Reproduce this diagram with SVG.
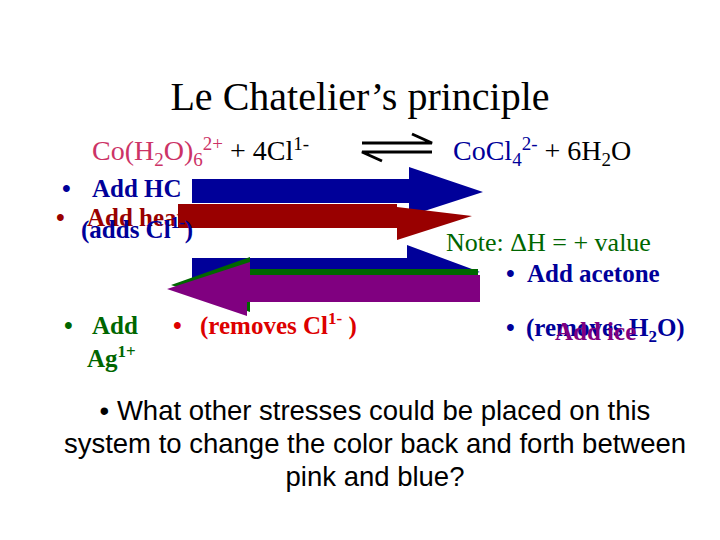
<svg xmlns="http://www.w3.org/2000/svg" width="720" height="540" viewBox="0 0 720 540">
<style>
.t{font-family:"Liberation Serif",serif}
.b{font-family:"Liberation Serif",serif;font-weight:bold;font-size:25px}
.s{font-family:"Liberation Sans",sans-serif;font-size:27.5px;text-anchor:middle}
</style>
<rect width="720" height="540" fill="#fff"/>
<g id="title"><text class="t" x="360" y="110" font-size="40" text-anchor="middle">Le Chatelier’s principle</text></g>
<g id="equation" class="t" font-size="28">
<text x="92" y="160"><tspan fill="#cc3366">Co(H<tspan font-size="19" dy="6">2</tspan><tspan dy="-6">O)</tspan><tspan font-size="19" dy="6">6</tspan><tspan font-size="19" dy="-16">2+</tspan></tspan><tspan dy="10"> + 4Cl</tspan><tspan font-size="19" dy="-10">1-</tspan></text>
<text x="453" y="160"><tspan fill="#000099">CoCl<tspan font-size="19" dy="6">4</tspan><tspan font-size="19" dy="-16">2-</tspan></tspan><tspan dy="10"> + 6H</tspan><tspan font-size="19" dy="6">2</tspan><tspan dy="-6">O</tspan></text>
<path d="M362 143 H432 L412 134 M432 152 H362 L382 161" fill="none" stroke="#000" stroke-width="3"/>
</g>
<g id="left-texts">
<text class="b" x="62" y="197" fill="#000099">•</text><text class="b" x="92" y="197" fill="#000099">Add HC</text>
<text class="b" x="56" y="226" fill="#990000">•</text><text class="b" x="87" y="226" fill="#990000">Add heat</text>
</g>
<g id="arrows">
<path d="M192 179 H409 V167 L483 192 L409 216 V203 H192 Z" fill="#000099"/>
<path d="M178 204 H397 V207 L472 216 L397 240 V228 H178 Z" fill="#990000"/>
<path d="M192 258 H407 V245 L480 272 L407 290 V290 H192 Z" fill="#000099"/>
<path d="M478 269 H250 V257 L171 285 L250 312 V302 H478 Z" fill="#006600"/>
<path d="M480 275 H250 V262 L167 289 L247 316 V302 H480 Z" fill="#800080"/>
</g>
<g id="adds"><text class="b" x="81" y="238" fill="#000099">(adds Cl<tspan font-size="17" dy="-10">1-</tspan><tspan dy="10">)</tspan></text></g>
<g id="right-texts">
<text class="t" x="446" y="251" font-size="26" fill="#006600">Note: ΔH = + value</text>
<text class="b" x="506" y="282" fill="#000099">•</text><text class="b" x="527" y="282" fill="#000099">Add acetone</text>
<text class="b" x="506" y="336" fill="#000099">•</text><text class="b" x="526" y="336" fill="#000099">(removes H<tspan font-size="17" dy="6">2</tspan><tspan dy="-6">O)</tspan></text>
<text class="b" x="555" y="340" fill="#800080" font-size="24">Add ice</text>
</g>
<g id="bottom-texts">
<text class="b" x="64" y="334" fill="#006600">•</text><text class="b" x="92" y="334" fill="#006600">Add</text>
<text class="b" x="87" y="367" fill="#006600">Ag<tspan font-size="17" dy="-10">1+</tspan></text>
<text class="b" x="173" y="334" fill="#dd0000">•</text><text class="b" x="200" y="334" fill="#dd0000">(removes Cl<tspan font-size="17" dy="-10">1-</tspan><tspan dy="10"> )</tspan></text>
<text class="s" x="375" y="420">• What other stresses could be placed on this</text>
<text class="s" x="375" y="453">system to change the color back and forth between</text>
<text class="s" x="375" y="486">pink and blue?</text>
</g>
</svg>
